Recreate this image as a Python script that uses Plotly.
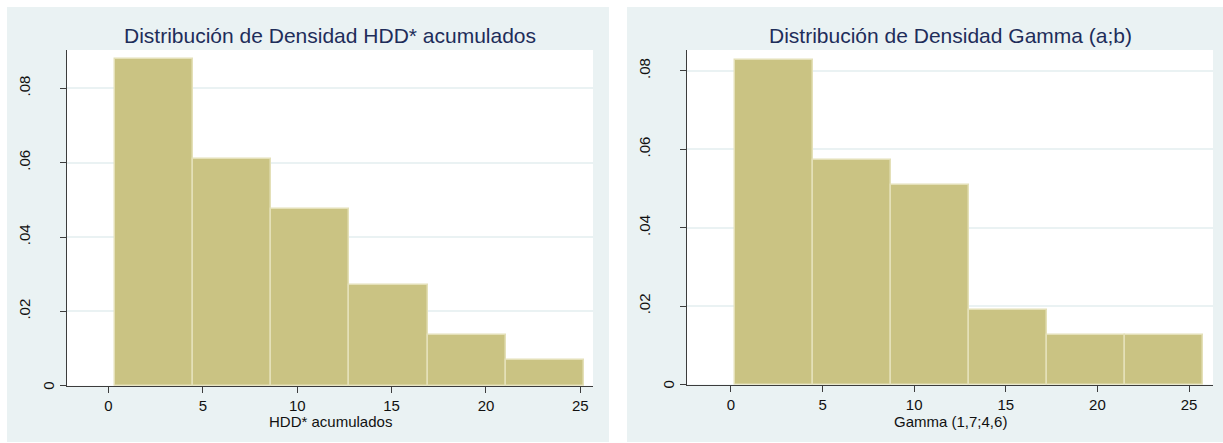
import plotly.graph_objects as go

# Histogram densities (6 bins each)
hdd_density = [0.0878, 0.0609, 0.0474, 0.0271, 0.0136, 0.0069]
hdd_bin_start = 0.35
hdd_bin_width = 4.138

gamma_density = [0.0828, 0.0573, 0.0510, 0.0190, 0.0126, 0.0126]
gamma_bin_start = 0.22
gamma_bin_width = 4.26

titles = ["Distribución de Densidad HDD* acumulados", "Distribución de Densidad Gamma (a;b)"]
x_titles = ["HDD* acumulados", "Gamma (1,7;4,6)"]
x_ticks = [0, 5, 10, 15, 20, 25]
y_ticks = [0.02, 0.04, 0.06, 0.08]
y_tick_text = [".02", ".04", ".06", ".08"]

W, H = 1223, 443
FONT = "Liberation Sans, Arial, sans-serif"
PANEL_BG = "#EAF2F3"
BAR_FILL = "rgb(202,195,131)"
BAR_EDGE = "rgb(228,224,184)"
AXIS_COL = "#3c3c3c"
TITLE_COL = "rgb(30,45,90)"


def centers(start, width, n):
    return [start + width * (i + 0.5) for i in range(n)]


fig = go.Figure()
fig.add_trace(go.Bar(
    x=centers(hdd_bin_start, hdd_bin_width, len(hdd_density)), y=hdd_density,
    width=hdd_bin_width, marker=dict(color=BAR_FILL, line=dict(color=BAR_EDGE, width=1.5)),
    xaxis="x", yaxis="y", showlegend=False, hoverinfo="skip"))
fig.add_trace(go.Bar(
    x=centers(gamma_bin_start, gamma_bin_width, len(gamma_density)), y=gamma_density,
    width=gamma_bin_width, marker=dict(color=BAR_FILL, line=dict(color=BAR_EDGE, width=1.5)),
    xaxis="x2", yaxis="y2", showlegend=False, hoverinfo="skip"))

axis_common = dict(
    showline=True, linecolor=AXIS_COL, linewidth=1,
    ticks="outside", ticklen=6, tickcolor=AXIS_COL, tickwidth=1,
    zeroline=False, tickfont=dict(family=FONT, size=15, color="#111"),
)

fig.update_layout(
    width=W, height=H, margin=dict(l=0, r=0, t=0, b=0),
    paper_bgcolor="white", plot_bgcolor="white", bargap=0,
    xaxis=dict(domain=[67 / W, 593 / W], range=[-2.20, 25.67], tickvals=x_ticks,
               showgrid=False, anchor="y", **axis_common),
    yaxis=dict(domain=[(H - 385.8) / H, 1 - 50 / H], range=[0, 0.09027],
               tickvals=[0] + y_ticks, ticktext=[""] + y_tick_text, tickangle=-90,
               showgrid=True, gridcolor=PANEL_BG, gridwidth=1.5,
               ticklabelstandoff=24, anchor="x", **axis_common),
    xaxis2=dict(domain=[687 / W, 1213 / W], range=[-2.40, 26.31], tickvals=x_ticks,
                showgrid=False, anchor="y2", **axis_common),
    yaxis2=dict(domain=[(H - 384.6) / H, 1 - 50 / H], range=[0, 0.0853],
                tickvals=[0] + y_ticks, ticktext=[""] + y_tick_text, tickangle=-90,
                showgrid=True, gridcolor=PANEL_BG, gridwidth=1.5,
                ticklabelstandoff=24, anchor="x2", **axis_common),
)

# Panel backgrounds and white plot regions
shapes = [
    dict(type="rect", xref="paper", yref="paper", x0=7 / W, x1=609 / W, y0=1 / H, y1=1 - 7 / H,
         fillcolor=PANEL_BG, line=dict(width=0), layer="below"),
    dict(type="rect", xref="paper", yref="paper", x0=627 / W, x1=1, y0=1 / H, y1=1 - 7 / H,
         fillcolor=PANEL_BG, line=dict(width=0), layer="below"),
    dict(type="rect", xref="x domain", yref="y domain", x0=0, x1=1, y0=0, y1=1,
         fillcolor="white", line=dict(width=0), layer="below"),
    dict(type="rect", xref="x2 domain", yref="y2 domain", x0=0, x1=1, y0=0, y1=1,
         fillcolor="white", line=dict(width=0), layer="below"),
]
fig.update_layout(shapes=shapes)

annotations = []
for i, (xa, ya) in enumerate([("x", "y"), ("x2", "y2")]):
    annotations.append(dict(text=titles[i], xref=f"{xa} domain", x=0.5, yref="paper",
                            y=(H - 35) / H, xanchor="center", yanchor="middle", showarrow=False,
                            font=dict(family=FONT, size=21, color=TITLE_COL)))
    annotations.append(dict(text=x_titles[i], xref=f"{xa} domain", x=0.5, yref="paper",
                            y=(H - 421) / H, xanchor="center", yanchor="middle", showarrow=False,
                            font=dict(family=FONT, size=15, color="#111")))
    # zero label sits closer to the axis than the other y labels
    annotations.append(dict(text="0", xref=f"{xa} domain", x=0, xshift=-18, yref=ya, y=0,
                            xanchor="center", yanchor="middle", textangle=-90, showarrow=False,
                            font=dict(family=FONT, size=15, color="#111")))
fig.update_layout(annotations=annotations)

fig.write_html("out.html")
